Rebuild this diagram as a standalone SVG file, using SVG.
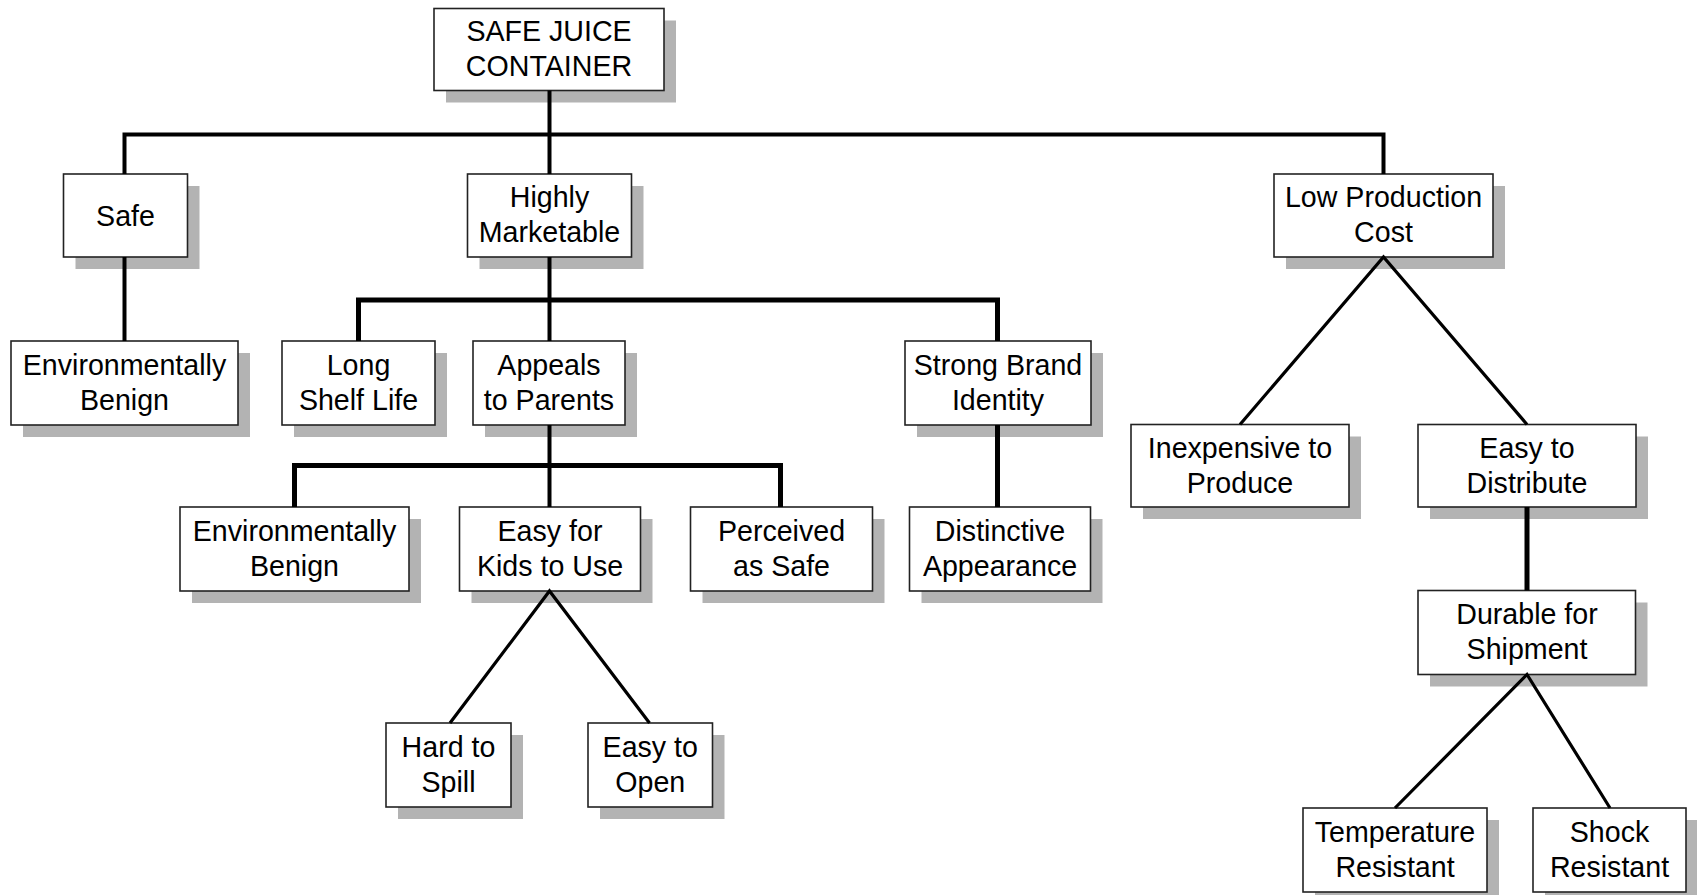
<svg xmlns="http://www.w3.org/2000/svg" width="1697" height="895" viewBox="0 0 1697 895">
<style>
.sh{fill:#b3b3b3}
.bx{fill:#fff;stroke:#222;stroke-width:1.6}
text{font-family:"Liberation Sans",Arial,sans-serif;font-size:28.6px;fill:#000;text-anchor:middle}
.c{fill:none;stroke:#000;stroke-linejoin:miter;stroke-linecap:butt}
.t4{stroke-width:4}
.t5{stroke-width:5}
.t3{stroke-width:3.2}
</style>
<rect width="1697" height="895" fill="#fff"/>
<g id="nodes">
<g id="root"><rect class="sh" x="446" y="20.5" width="230" height="82"/><rect class="bx" x="434" y="8.5" width="230" height="82"/><text x="549" y="41">SAFE JUICE</text><text x="549" y="76">CONTAINER</text></g>
<g id="safe"><rect class="sh" x="75.5" y="186" width="124" height="83"/><rect class="bx" x="63.5" y="174" width="124" height="83"/><text x="125.5" y="226">Safe</text></g>
<g id="highly-marketable"><rect class="sh" x="479.5" y="186" width="164" height="83"/><rect class="bx" x="467.5" y="174" width="164" height="83"/><text x="549.5" y="207">Highly</text><text x="549.5" y="242">Marketable</text></g>
<g id="low-production-cost"><rect class="sh" x="1286" y="186" width="219" height="83"/><rect class="bx" x="1274" y="174" width="219" height="83"/><text x="1383.5" y="207">Low Production</text><text x="1383.5" y="242">Cost</text></g>
<g id="env-benign-1"><rect class="sh" x="23" y="353" width="227" height="84"/><rect class="bx" x="11" y="341" width="227" height="84"/><text x="124.5" y="374.5">Environmentally</text><text x="124.5" y="409.5">Benign</text></g>
<g id="long-shelf-life"><rect class="sh" x="294" y="353" width="153" height="84"/><rect class="bx" x="282" y="341" width="153" height="84"/><text x="358.5" y="374.5">Long</text><text x="358.5" y="409.5">Shelf Life</text></g>
<g id="appeals-to-parents"><rect class="sh" x="485" y="353" width="152" height="84"/><rect class="bx" x="473" y="341" width="152" height="84"/><text x="549" y="374.5">Appeals</text><text x="549" y="409.5">to Parents</text></g>
<g id="strong-brand-identity"><rect class="sh" x="917" y="353" width="186" height="84"/><rect class="bx" x="905" y="341" width="186" height="84"/><text x="998" y="374.5">Strong Brand</text><text x="998" y="409.5">Identity</text></g>
<g id="env-benign-2"><rect class="sh" x="192" y="519" width="229" height="84"/><rect class="bx" x="180" y="507" width="229" height="84"/><text x="294.5" y="540.5">Environmentally</text><text x="294.5" y="575.5">Benign</text></g>
<g id="easy-for-kids"><rect class="sh" x="471.5" y="519" width="181" height="84"/><rect class="bx" x="459.5" y="507" width="181" height="84"/><text x="550" y="540.5">Easy for</text><text x="550" y="575.5">Kids to Use</text></g>
<g id="perceived-as-safe"><rect class="sh" x="702.5" y="519" width="182" height="84"/><rect class="bx" x="690.5" y="507" width="182" height="84"/><text x="781.5" y="540.5">Perceived</text><text x="781.5" y="575.5">as Safe</text></g>
<g id="distinctive-appearance"><rect class="sh" x="921.5" y="519" width="181" height="84"/><rect class="bx" x="909.5" y="507" width="181" height="84"/><text x="1000" y="540.5">Distinctive</text><text x="1000" y="575.5">Appearance</text></g>
<g id="hard-to-spill"><rect class="sh" x="398" y="735" width="125" height="84"/><rect class="bx" x="386" y="723" width="125" height="84"/><text x="448.5" y="756.5">Hard to</text><text x="448.5" y="791.5">Spill</text></g>
<g id="easy-to-open"><rect class="sh" x="600" y="735" width="124.5" height="84"/><rect class="bx" x="588" y="723" width="124.5" height="84"/><text x="650.25" y="756.5">Easy to</text><text x="650.25" y="791.5">Open</text></g>
<g id="inexpensive"><rect class="sh" x="1143" y="436.5" width="218" height="82.5"/><rect class="bx" x="1131" y="424.5" width="218" height="82.5"/><text x="1240" y="457.5">Inexpensive to</text><text x="1240" y="492.5">Produce</text></g>
<g id="easy-to-distribute"><rect class="sh" x="1430" y="436.5" width="218" height="82.5"/><rect class="bx" x="1418" y="424.5" width="218" height="82.5"/><text x="1527" y="457.5">Easy to</text><text x="1527" y="492.5">Distribute</text></g>
<g id="durable"><rect class="sh" x="1430" y="602.5" width="217.5" height="84"/><rect class="bx" x="1418" y="590.5" width="217.5" height="84"/><text x="1527" y="624">Durable for</text><text x="1527" y="659">Shipment</text></g>
<g id="temperature-resistant"><rect class="sh" x="1315" y="820" width="184" height="84"/><rect class="bx" x="1303" y="808" width="184" height="84"/><text x="1395" y="841.5">Temperature</text><text x="1395" y="876.5">Resistant</text></g>
<g id="shock-resistant"><rect class="sh" x="1545" y="820" width="153" height="84"/><rect class="bx" x="1533" y="808" width="153" height="84"/><text x="1609.5" y="841.5">Shock</text><text x="1609.5" y="876.5">Resistant</text></g>
</g>
<g id="connectors">
<path class="c t4" d="M549.5 90.5V174"/>
<path class="c t4" d="M124.5 174V134.5H1383.5V174"/>
<path class="c t4" d="M124.5 257V341"/>
<path class="c t4" d="M549.5 257V341"/>
<path class="c t5" d="M358.5 341V300H997.5V341"/>
<path class="c t5" d="M997.5 425V507"/>
<path class="c t4" d="M549.5 425V507"/>
<path class="c t5" d="M294.5 507V465.5H780.5V507"/>
<path class="c t3" d="M450 723L549.5 591L649.5 723"/>
<path class="c t3" d="M1240 424.5L1383.5 257L1527 424.5"/>
<path class="c t5" d="M1527 507V590.5"/>
<path class="c t3" d="M1395 808L1527 674.5L1610 808"/>
</g>
</svg>
